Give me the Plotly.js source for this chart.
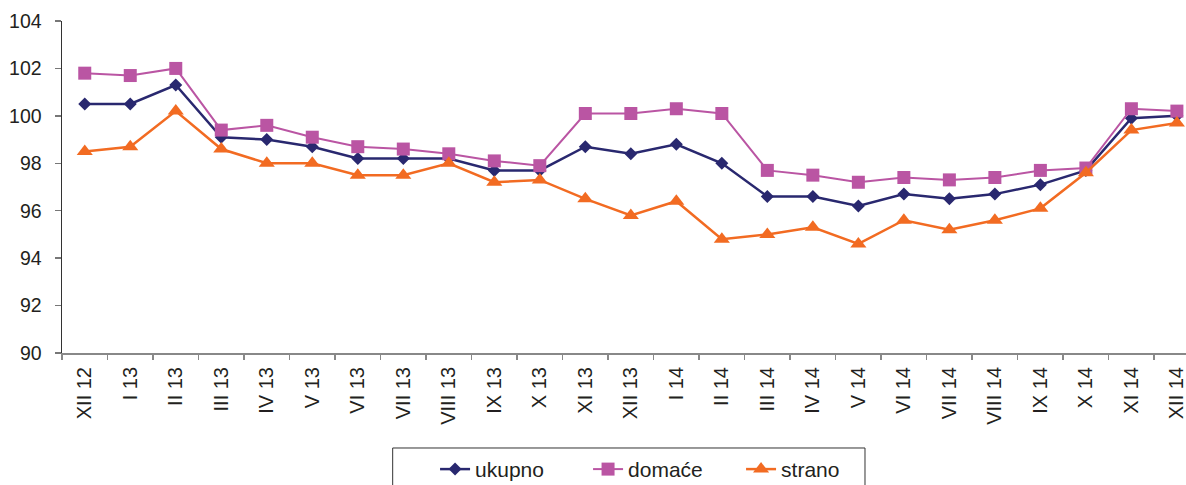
<!DOCTYPE html>
<html>
<head>
<meta charset="utf-8">
<script src="https://cdn.plot.ly/plotly-3.0.1.min.js"></script>
<style>html,body{margin:0;padding:0;background:#fff;}#chart{width:1186px;height:485px;}</style>
</head>
<body>
<div id="chart"></div>
<script>
const categories = ["XII 12","I 13","II 13","III 13","IV 13","V 13","VI 13","VII 13","VIII 13","IX 13","X 13","XI 13","XII 13","I 14","II 14","III 14","IV 14","V 14","VI 14","VII 14","VIII 14","IX 14","X 14","XI 14","XII 14"];
const ukupno = [100.5,100.5,101.3,99.1,99.0,98.7,98.2,98.2,98.2,97.7,97.7,98.7,98.4,98.8,98.0,96.6,96.6,96.2,96.7,96.5,96.7,97.1,97.7,99.9,100.0];
const domace = [101.8,101.7,102.0,99.4,99.6,99.1,98.7,98.6,98.4,98.1,97.9,100.1,100.1,100.3,100.1,97.7,97.5,97.2,97.4,97.3,97.4,97.7,97.8,100.3,100.2];
const strano = [98.5,98.7,100.2,98.6,98.0,98.0,97.5,97.5,98.0,97.2,97.3,96.5,95.8,96.4,94.8,95.0,95.3,94.6,95.6,95.2,95.6,96.1,97.6,99.4,99.7];
const yTicks = [90,92,94,96,98,100,102,104];

const FONT = "'Liberation Sans', Arial, sans-serif";
const TXT = "#231F20";

const traces = [
  {x: categories, y: ukupno, name: "ukupno", type: "scatter", mode: "lines+markers",
   line: {color: "#29286F", width: 2.5}, marker: {symbol: "diamond", size: 10, color: "#29286F"}},
  {x: categories, y: domace, name: "domaće", type: "scatter", mode: "lines+markers",
   line: {color: "#BA55A3", width: 2}, marker: {symbol: "square", size: 13, color: "#BA55A3"}},
  {x: categories, y: strano, name: "strano", type: "scatter", mode: "lines+markers",
   line: {color: "#F26B22", width: 2.5}, marker: {symbol: "triangle-up", size: 14, color: "#F26B22"}}
];

const layout = {
  width: 1186, height: 485,
  margin: {l: 62, r: 0, t: 21, b: 132, pad: 0, autoexpand: false},
  paper_bgcolor: "#fff", plot_bgcolor: "#fff",
  font: {family: FONT, color: TXT, size: 20},
  showlegend: true,
  xaxis: {
    type: "category", range: [-0.5, 24.2],
    tickangle: -90, tickson: "boundaries",
    ticks: "outside", ticklen: 5, tickcolor: "#888", tickwidth: 1.5,
    showline: true, linecolor: "#888", linewidth: 2,
    showgrid: false, zeroline: false,
    tickfont: {family: FONT, size: 20, color: TXT},
    ticklabelstandoff: 4
  },
  yaxis: {
    range: [90, 104], tickvals: yTicks, ticktext: yTicks.map(String),
    ticks: "outside", ticklen: 6, tickcolor: "#777", tickwidth: 1.5,
    showline: true, linecolor: "#333", linewidth: 1.5,
    showgrid: false, zeroline: false,
    tickfont: {family: FONT, size: 19.5, color: TXT},
    ticklabelstandoff: 9
  },
  legend: {
    orientation: "h", x: 0.3319, xanchor: "left", y: -0.289, yanchor: "top",
    borderwidth: 0, bgcolor: "rgba(0,0,0,0)",
    font: {family: FONT, size: 21, color: TXT},
    entrywidth: 108
  },
  shapes: [{
    type: "rect", xref: "paper", yref: "paper",
    x0: 0.2942, x1: 0.7144, y0: -0.2861, y1: -0.42,
    line: {color: "#333", width: 1}, fillcolor: "rgba(0,0,0,0)", layer: "above"
  }]
};

Plotly.newPlot("chart", traces, layout, {displayModeBar: false, staticPlot: true});
</script>
</body>
</html>
